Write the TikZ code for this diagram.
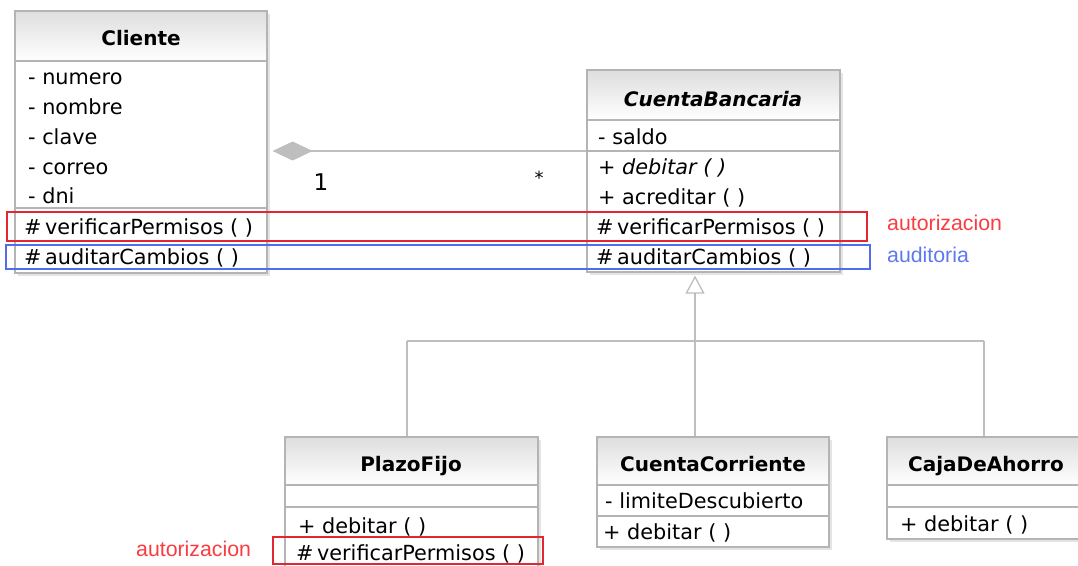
\documentclass[tikz,border=0pt]{standalone}
\usepackage{fontspec}
\setmainfont{DejaVu Sans}
\newfontfamily\lblfont{Liberation Sans}
\usetikzlibrary{arrows.meta}
\definecolor{boxgray}{RGB}{180,180,180}
\definecolor{hlred}{RGB}{228,38,50}
\definecolor{hlblue}{RGB}{80,110,235}
\definecolor{lblred}{RGB}{250,60,64}
\definecolor{lblblue}{RGB}{95,120,240}
\definecolor{shadowgray}{RGB}{228,228,228}
\definecolor{assocgray}{RGB}{190,190,190}
\tikzset{
  classbox/.style={draw=boxgray, line width=1.2pt, inner sep=0pt},
  sepline/.style={draw=boxgray, line width=1.2pt},
  rowtext/.style={inner sep=0pt, anchor=west, yshift=-4.5pt, text height=0.75em, text depth=0.25em, font=\fontsize{20.8}{24}\selectfont},
  titletext/.style={inner sep=0pt, yshift=-3.5pt, text height=0.75em, text depth=0.25em, font=\fontsize{20}{24}\selectfont\bfseries},
  hlredbox/.style={draw=hlred, line width=1.3pt},
  hlbluebox/.style={draw=hlblue, line width=1.3pt},
  lblr/.style={inner sep=0pt, anchor=west, text=lblred, font=\fontsize{21.3}{24}\lblfont},
  lblb/.style={inner sep=0pt, anchor=west, text=lblblue, font=\fontsize{21.3}{24}\lblfont},
  conn/.style={draw=assocgray, line width=1.3pt},
  multtext/.style={inner sep=0pt, font=\fontsize{23}{26}\selectfont}
}
\newcommand\umlbox[6]{%
  \fill[shadowgray] (#2+2.5,#3+2.5) rectangle (#4+2.5,#5+2.5);
  \fill[white] (#2,#3) rectangle (#4,#5);
  \shade[top color=black!13, bottom color=white] (#2,#3) rectangle (#4,#6);
  \node[classbox, minimum width={#4-#2}, minimum height={#5-#3}] (#1) at ({(#2+#4)/2},{(#3+#5)/2}) {};
  \draw[sepline] (#2,#6) -- (#4,#6);
}
\begin{document}
\begin{tikzpicture}[x=1pt,y=-1pt]
\useasboundingbox (0,0) rectangle (1078,565);
\begin{scope}
\clip (0,0) rectangle (1078,565);
\fill[white] (0,0) rectangle (1078,565);

% Cliente
\umlbox{cliente}{15}{11}{267}{273}{61}
\draw[sepline] (15,208) -- (267,208);
\node[titletext] (clt) at (141,39) {Cliente};
\node[rowtext] (cl1) at (28,77) {- numero};
\node[rowtext] (cl2) at (28,107) {- nombre};
\node[rowtext] (cl3) at (28,137) {- clave};
\node[rowtext] (cl4) at (28,167) {- correo};
\node[rowtext] (cl5) at (28,196) {- dni};
\node[rowtext] (cl6) at (24,227) {\#\,verificarPermisos ( )};
\node[rowtext] (cl7) at (24,257) {\#\,auditarCambios ( )};

% CuentaBancaria
\umlbox{cuenta}{587}{70}{840}{272}{120}
\draw[sepline] (587,151) -- (840,151);
\node[titletext, font=\fontsize{20}{24}\selectfont\bfseries\itshape] (cut) at (713,100) {CuentaBancaria};
\node[rowtext] (cu1) at (598,137) {- saldo};
\node[rowtext, font=\fontsize{20.8}{24}\selectfont\itshape] (cu2) at (598,167) {+ debitar ( )};
\node[rowtext] (cu3) at (598,197) {+ acreditar ( )};
\node[rowtext] (cu4) at (596,227) {\#\,verificarPermisos ( )};
\node[rowtext] (cu5) at (596,257) {\#\,auditarCambios ( )};

% PlazoFijo
\umlbox{plazo}{285}{437}{538}{600}{485}
\draw[sepline] (285,507) -- (538,507);
\node[titletext] (plt) at (411,465) {PlazoFijo};
\node[rowtext] (pl1) at (298,526) {+ debitar ( )};
\node[rowtext] (pl2) at (296,553) {\#\,verificarPermisos ( )};

% CuentaCorriente
\umlbox{corr}{597}{437}{829}{547}{485}
\draw[sepline] (597,516) -- (829,516);
\node[titletext] (cct) at (713,465) {CuentaCorriente};
\node[rowtext] (cc1) at (605,501) {- limiteDescubierto};
\node[rowtext] (cc2) at (603,532) {+ debitar ( )};

% CajaDeAhorro
\umlbox{caja}{887}{437}{1085}{539}{485}
\draw[sepline] (887,507) -- (1085,507);
\node[titletext] (cat) at (986,465) {CajaDeAhorro};
\node[rowtext] (ca1) at (900,524) {+ debitar ( )};

% association
\coordinate (asy) at (0,151);
\draw[conn, {Diamond[length=40pt,width=19pt,fill=assocgray,color=assocgray]}-] ([xshift=5pt]cliente.east |- asy) -- (cuenta.west |- asy);
\node[multtext] (m1) at (321,182) {1};
\node[multtext, font=\fontsize{18}{20}\selectfont] (m2) at (539,178) {*};

% generalization
\coordinate (gen) at (695,341);
\coordinate (barL) at (407,341);
\coordinate (barR) at (984,341);
\draw[conn, -{Triangle[open,length=18pt,width=19pt,fill=white]}] (gen) -- ([xshift=-18.5pt,yshift=-3pt]cuenta.south);
\draw[conn] (barL) -- (barR);
\draw[conn] (barL) -- (barL |- plazo.north);
\draw[conn] (gen) -- (gen |- corr.north);
\draw[conn] (barR) -- (barR |- caja.north);

% highlight rectangles
\draw[hlredbox] (7,212) rectangle (867,241);
\draw[hlbluebox] (6,245) rectangle (870,269);
\draw[hlredbox] (273,537) rectangle (543,564);

% labels
\node[lblr] (lb1) at (887,223) {autorizacion};
\node[lblb] (lb2) at (887,255) {auditoria};
\node[lblr] (lb3) at (136,549) {autorizacion};
\end{scope}
\end{tikzpicture}
\end{document}
